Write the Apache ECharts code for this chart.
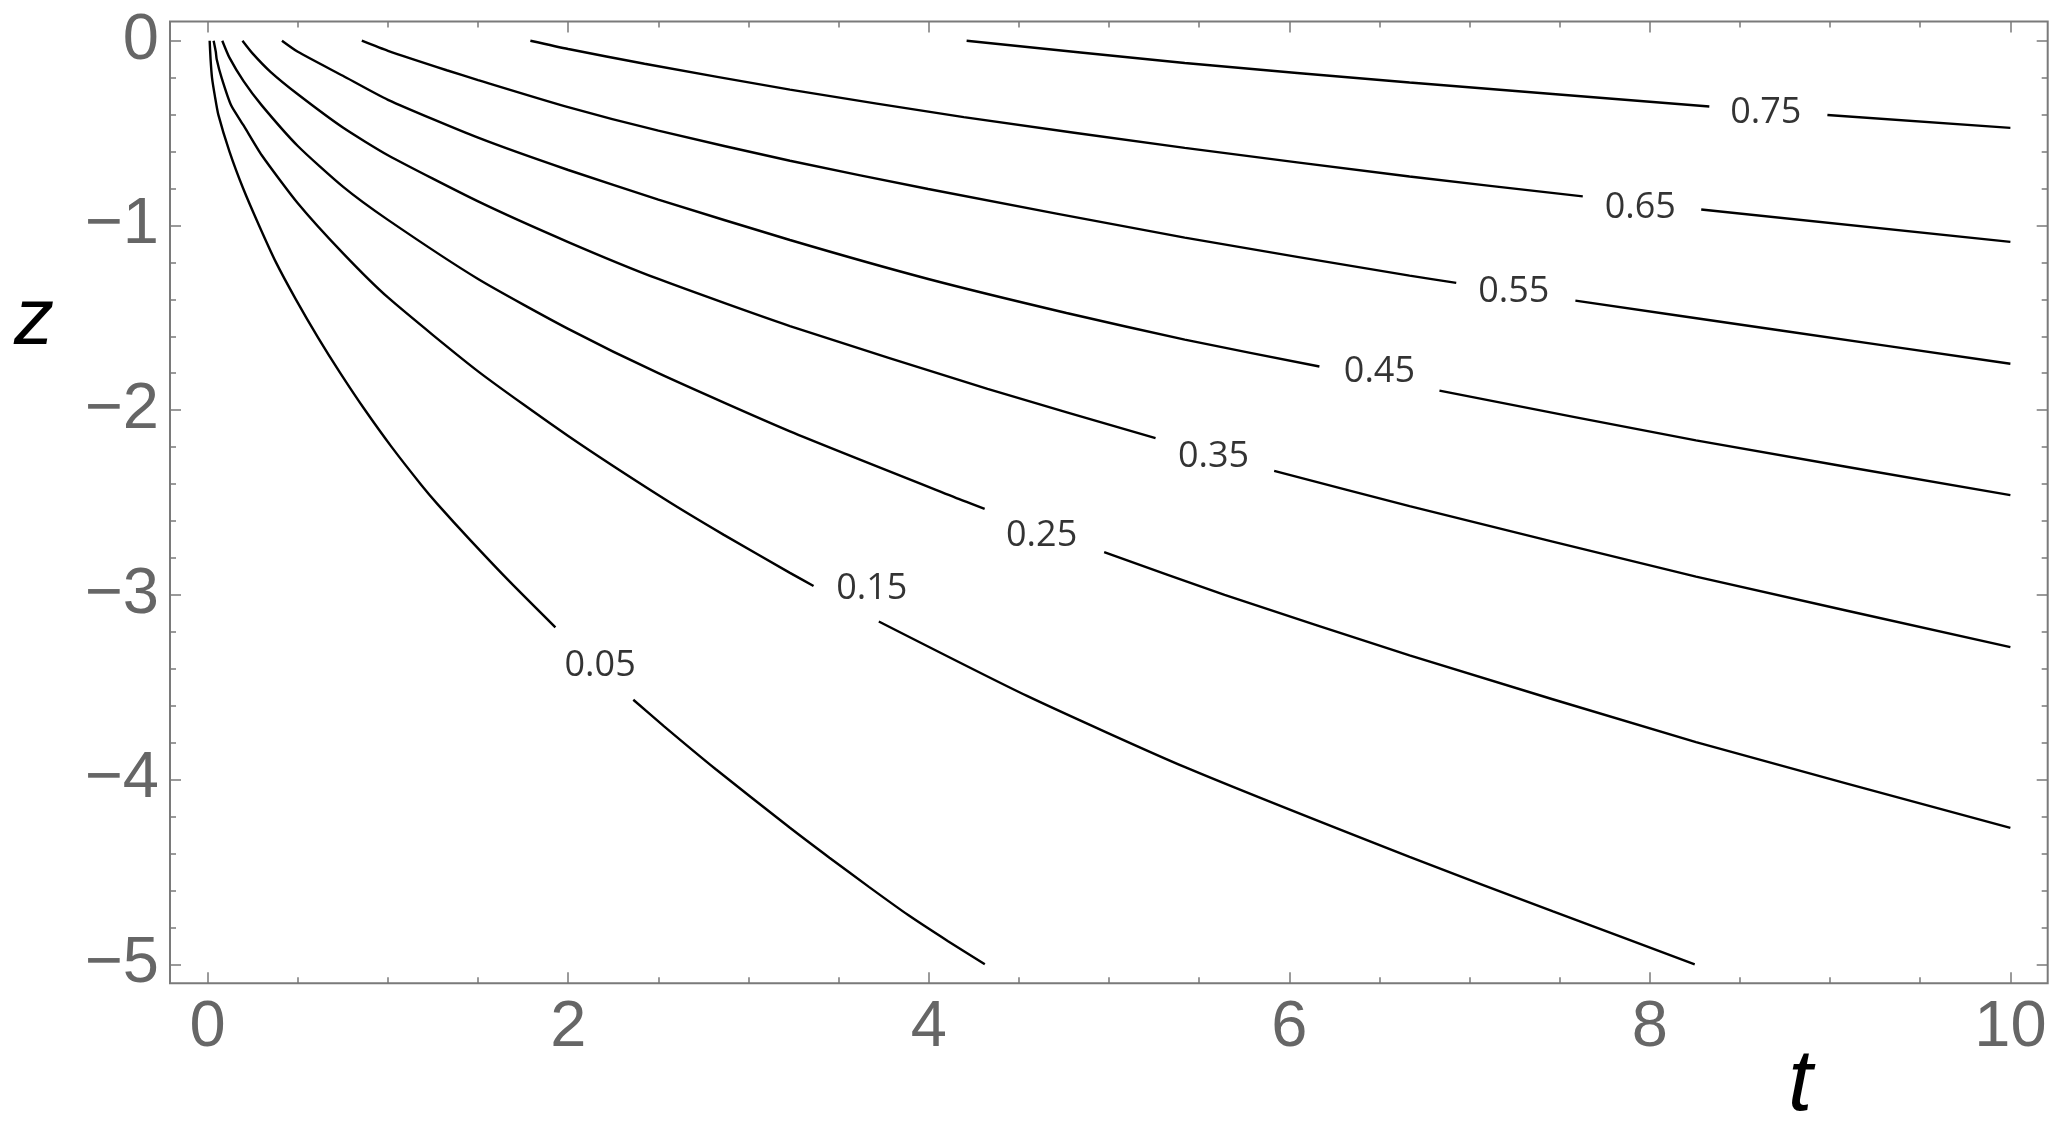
<!DOCTYPE html>
<html>
<head>
<meta charset="utf-8">
<title>contours z-t</title>
<script src="https://cdn.jsdelivr.net/npm/echarts@6/dist/echarts.min.js"></script>
<style>
  html, body { margin: 0; padding: 0; background: #fff; }
  #chart { width: 2067px; height: 1131px; }
</style>
</head>
<body>
<div id="chart"></div>
<script>
// ticks and tick labels
const tMajor = [0, 2, 4, 6, 8, 10]
const tTickLabels = ['0', '2', '4', '6', '8', '10']
const zMajor = [0, -1, -2, -3, -4, -5]
const zTickLabels = ['0', '\u22121', '\u22122', '\u22123', '\u22124', '\u22125']
const tMinor = [0.5, 1, 1.5, 2.5, 3, 3.5, 4.5, 5, 5.5, 6.5, 7, 7.5, 8.5, 9, 9.5]
const zMinor = [-0.2, -0.4, -0.6, -0.8, -1.2, -1.4, -1.6, -1.8, -2.2, -2.4, -2.6, -2.8, -3.2, -3.4, -3.6, -3.8, -4.2, -4.4, -4.6, -4.8]

// contour lines as [t, z]; "a" before the label, "b" after it
const c005a = [[0.011, 0], [0.016, -0.1], [0.024, -0.2], [0.04, -0.3], [0.059, -0.4], [0.121, -0.6], [0.197, -0.8], [0.285, -1.0], [0.379, -1.2], [0.489, -1.4], [0.614, -1.61], [0.734, -1.797], [0.866, -1.99], [1.02, -2.199], [1.185, -2.405], [1.276, -2.51], [1.458, -2.705], [1.677, -2.93], [1.929, -3.176]]
const c005b = [[2.361, -3.568], [2.532, -3.712], [2.817, -3.943], [3.23, -4.261], [3.449, -4.423], [3.668, -4.581], [3.888, -4.735], [4.107, -4.875], [4.311, -5.0]]
const c015a = [[0.033, 0], [0.045, -0.06], [0.05, -0.1], [0.077, -0.2], [0.13, -0.35], [0.2, -0.46], [0.3, -0.62], [0.5, -0.88], [0.75, -1.15], [1.0, -1.39], [1.5, -1.79], [2.0, -2.14], [2.532, -2.48], [2.861, -2.674], [3.23, -2.881], [3.361, -2.952]]
const c015b = [[3.723, -3.144], [4.545, -3.547], [5.422, -3.933], [6.667, -4.419], [7.463, -4.714], [8.249, -5.0]]
const c025a = [[0.081, 0], [0.12, -0.09], [0.2, -0.22], [0.3, -0.35], [0.5, -0.57], [0.75, -0.79], [1.0, -0.97], [1.5, -1.29], [2.0, -1.56], [2.5, -1.80], [3.23, -2.115], [4.194, -2.491], [4.31, -2.534]]
const c025b = [[4.973, -2.769], [5.641, -3.0], [6.667, -3.328], [8.256, -3.797], [10, -4.262]]
const c035a = [[0.193, 0], [0.25, -0.07], [0.35, -0.17], [0.5, -0.29], [0.75, -0.47], [1.0, -0.62], [1.5, -0.87], [2.0, -1.09], [2.5, -1.29], [3.23, -1.545], [4.326, -1.885], [5.258, -2.151]]
const c035b = [[5.916, -2.329], [6.667, -2.52], [8.256, -2.901], [10, -3.283]]
const c045a = [[0.412, 0], [0.5, -0.06], [0.75, -0.19], [1.0, -0.32], [1.5, -0.525], [2.0, -0.70], [2.5, -0.86], [3.23, -1.079], [3.997, -1.29], [4.764, -1.474], [5.42, -1.618], [6.167, -1.764]]
const c045b = [[6.833, -1.894], [8.256, -2.164], [10, -2.46]]
const c055a = [[0.855, 0], [1.0, -0.055], [1.326, -0.16], [1.5, -0.213], [1.984, -0.355], [2.5, -0.487], [3.23, -0.65], [3.997, -0.803], [5.42, -1.066], [6.667, -1.272], [6.926, -1.311]]
const c055b = [[7.587, -1.407], [8.708, -1.566], [10, -1.749]]
const c065a = [[1.79, 0], [2.0, -0.045], [2.423, -0.125], [3.23, -0.265], [4.194, -0.414], [5.42, -0.58], [6.667, -0.735], [7.628, -0.843]]
const c065b = [[8.285, -0.914], [10, -1.089]]
const c075a = [[4.21, 0], [5.42, -0.121], [6.667, -0.226], [8.33, -0.356]]
const c075b = [[8.985, -0.402], [10, -0.472]]

// where each level's number is written
const contourLabels = [[8.643, -0.392, '0.75'], [7.947, -0.906, '0.65'], [7.245, -1.357, '0.55'], [6.5, -1.79, '0.45'], [5.58, -2.25, '0.35'], [4.626, -2.678, '0.25'], [3.684, -2.967, '0.15'], [2.177, -3.385, '0.05']]

const segments = [c005a, c005b, c015a, c015b, c025a, c025b, c035a, c035b, c045a, c045b, c055a, c055b, c065a, c065b, c075a, c075b]

const tickGray = '#7a7a7a'
const labelGray = '#666666'
const tRange = [-0.209, 10.207]
const zRange = [-5.103, 0.104]

const chart = echarts.init(document.getElementById('chart'))

// one axis per side and tick size; they all share the frame
function tAxis(position, values, len, labels) {
  return {
    type: 'value', position: position, min: tRange[0], max: tRange[1],
    axisLine: { show: false, onZero: false },
    splitLine: { show: false },
    axisTick: { show: true, inside: true, length: len, customValues: values, lineStyle: { color: tickGray, width: 1.5 } },
    axisLabel: labels ? {
      show: true, customValues: values, margin: 12, fontSize: 65, color: labelGray, fontFamily: 'Liberation Sans',
      formatter: v => tTickLabels[tMajor.indexOf(Math.round(v))]
    } : { show: false }
  }
}
function zAxis(position, values, len, labels) {
  return {
    type: 'value', position: position, min: zRange[0], max: zRange[1],
    axisLine: { show: false, onZero: false },
    splitLine: { show: false },
    axisTick: { show: true, inside: true, length: len, customValues: values, lineStyle: { color: tickGray, width: 1.5 } },
    axisLabel: labels ? {
      show: true, customValues: values, margin: 11, fontSize: 65, color: labelGray, fontFamily: 'Liberation Sans',
      formatter: v => zTickLabels[zMajor.indexOf(Math.round(v))]
    } : { show: false }
  }
}

const lineSeries = segments.map(seg => ({
  type: 'line',
  data: seg,
  showSymbol: false,
  smooth: 0.2,
  clip: false,
  silent: true,
  lineStyle: { color: '#000', width: 2.4 }
}))

chart.setOption({
  animation: false,
  backgroundColor: '#fff',
  grid: {
    left: 170, top: 21.5, width: 1877.7, height: 961.8,
    show: true, borderColor: '#7a7a7a', borderWidth: 2, backgroundColor: 'transparent'
  },
  xAxis: [
    tAxis('bottom', tMajor, 11, true),
    tAxis('bottom', tMinor, 6, false),
    tAxis('top', tMajor, 11, false),
    tAxis('top', tMinor, 6, false)
  ],
  yAxis: [
    zAxis('left', zMajor, 11, true),
    zAxis('left', zMinor, 6, false),
    zAxis('right', zMajor, 11, false),
    zAxis('right', zMinor, 6, false)
  ],
  graphic: [
    { type: 'text', left: 14, top: 282, style: { text: 'z', font: 'italic 80px "Liberation Sans"', fill: '#000' } },
    { type: 'text', left: 1788, top: 1042, style: { text: 't', font: 'italic 88px "Liberation Sans"', fill: '#000' } }
  ],
  series: lineSeries.concat([{
    type: 'scatter',
    data: contourLabels,
    symbolSize: 0,
    clip: false,
    silent: true,
    label: {
      show: true,
      position: 'inside',
      formatter: p => p.value[2],
      fontFamily: 'Open Sans',
      fontSize: 36,
      color: '#000'
    }
  }])
})
</script>
</body>
</html>
